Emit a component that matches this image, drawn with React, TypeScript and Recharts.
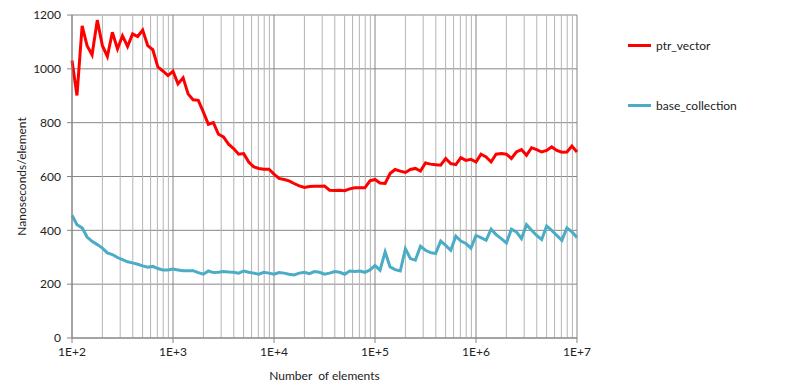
import { LineChart, Line, XAxis, YAxis, CartesianGrid, ReferenceLine } from "recharts";

// number of elements (x), ~20 samples per decade
const sizes = [
  100, 112, 126, 141, 158, 178, 200, 224, 251, 282, 316, 355, 398, 447, 501, 562, 631, 708, 794, 891,
  1000, 1120, 1260, 1410, 1580, 1780, 2000, 2240, 2510, 2820, 3160, 3550, 3980, 4470, 5010, 5620, 6310, 7080, 7940, 8910,
  10000, 11200, 12600, 14100, 15800, 17800, 20000, 22400, 25100, 28200, 31600, 35500, 39800, 44700, 50100, 56200, 63100, 70800, 79400, 89100,
  100000, 112000, 126000, 141000, 158000, 178000, 200000, 224000, 251000, 282000, 316000, 355000, 398000, 447000, 501000, 562000, 631000, 708000, 794000, 891000,
  1000000, 1120000, 1260000, 1410000, 1580000, 1780000, 2000000, 2240000, 2510000, 2820000, 3160000, 3550000, 3980000, 4470000, 5010000, 5620000, 6310000, 7080000, 7940000, 8910000,
  10000000,
];

const ptrVector = [
  1031, 901, 1160, 1086, 1052, 1181, 1086, 1046, 1136, 1074, 1123, 1083, 1130, 1120, 1144, 1086, 1071, 1007, 992, 975,
  991, 944, 967, 907, 885, 883, 839, 794, 800, 757, 747, 720, 704, 683, 685, 654, 636, 630, 627, 627,
  609, 593, 589, 584, 574, 565, 559, 563, 564, 564, 565, 549, 548, 549, 547, 554, 558, 558, 558, 584,
  589, 576, 574, 611, 626, 620, 615, 626, 630, 620, 650, 646, 644, 642, 667, 648, 644, 670, 660, 664,
  654, 683, 673, 654, 683, 685, 683, 667, 691, 700, 679, 707, 700, 691, 697, 710, 697, 690, 691, 713,
  691,
];

const baseCollection = [
  456, 421, 409, 375, 359, 347, 334, 316, 310, 299, 291, 283, 279, 274, 268, 263, 266, 258, 253, 253,
  256, 253, 250, 250, 250, 243, 237, 249, 243, 244, 247, 245, 244, 241, 249, 244, 241, 237, 244, 241,
  237, 243, 241, 237, 234, 241, 244, 239, 247, 244, 237, 241, 247, 244, 237, 249, 247, 249, 244, 253,
  269, 252, 320, 264, 254, 249, 332, 295, 289, 341, 326, 317, 314, 360, 344, 326, 378, 360, 351, 334,
  381, 373, 363, 404, 384, 369, 353, 404, 394, 369, 421, 400, 381, 366, 416, 400, 381, 363, 409, 394,
  373,
];

const xTicks = [1e2, 1e3, 1e4, 1e5, 1e6, 1e7];
const yTicks = [0, 200, 400, 600, 800, 1000, 1200];

const data = sizes.map((n, i) => ({ n, ptr: ptrVector[i], base: baseCollection[i] }));

// minor log gridlines 2..9 in each decade
const minorGrid: number[] = [];
xTicks.slice(0, -1).forEach((d) => {
  for (let m = 2; m <= 9; m++) minorGrid.push(d * m);
});

const FONT = "Lato, 'Open Sans', sans-serif";
const tickStyle = { fontSize: 12, fill: "#222", fontFamily: FONT };

export default function App() {
  return (
    <div style={{ position: "relative", width: 787, height: 380, fontFamily: FONT }}>
      <LineChart width={787} height={380} data={data} margin={{ top: 7, right: 218, left: 0, bottom: 0 }}>
        <CartesianGrid vertical={false} stroke="#868686" />
        {minorGrid.map((v) => (
          <ReferenceLine key={`m${v}`} x={v} stroke="#b4b4b4" strokeWidth={1} />
        ))}
        {xTicks.map((v) => (
          <ReferenceLine key={`d${v}`} x={v} stroke="#868686" strokeWidth={1} />
        ))}
        <XAxis
          dataKey="n"
          type="number"
          scale="log"
          domain={[100, 10000000]}
          ticks={xTicks}
          interval={0}
          tickFormatter={(v: number) => `1E+${Math.round(Math.log10(v))}`}
          tick={tickStyle}
          tickSize={5}
          tickMargin={4}
          axisLine={{ stroke: "#868686" }}
          tickLine={{ stroke: "#868686" }}
          height={50}
          label={{ value: "Number \u00a0of elements", position: "insideBottom", offset: 8, style: tickStyle }}
        />
        <YAxis
          type="number"
          domain={[0, 1200]}
          ticks={yTicks}
          interval={0}
          tick={tickStyle}
          tickSize={5}
          tickMargin={6}
          width={64}
          axisLine={{ stroke: "#868686" }}
          tickLine={{ stroke: "#868686" }}
          label={{ value: "Nanoseconds/element", angle: -90, position: "insideLeft", offset: 14, style: { ...tickStyle, textAnchor: "middle" } }}
        />
        <Line type="linear" dataKey="ptr" name="ptr_vector" stroke="#ff0000" strokeWidth={3} dot={false} isAnimationActive={false} />
        <Line type="linear" dataKey="base" name="base_collection" stroke="#4bacc6" strokeWidth={3} dot={false} isAnimationActive={false} />
      </LineChart>
      {[
        { name: "ptr_vector", color: "#ff0000", top: 38 },
        { name: "base_collection", color: "#4bacc6", top: 98 },
      ].map((s) => (
        <div key={s.name} style={{ position: "absolute", left: 620, top: s.top - 8, display: "flex", alignItems: "center", fontSize: 12, color: "#222" }}>
          <span style={{ display: "inline-block", width: 23, height: 3, background: s.color, marginRight: 5 }} />
          <span>{s.name}</span>
        </div>
      ))}
    </div>
  );
}
